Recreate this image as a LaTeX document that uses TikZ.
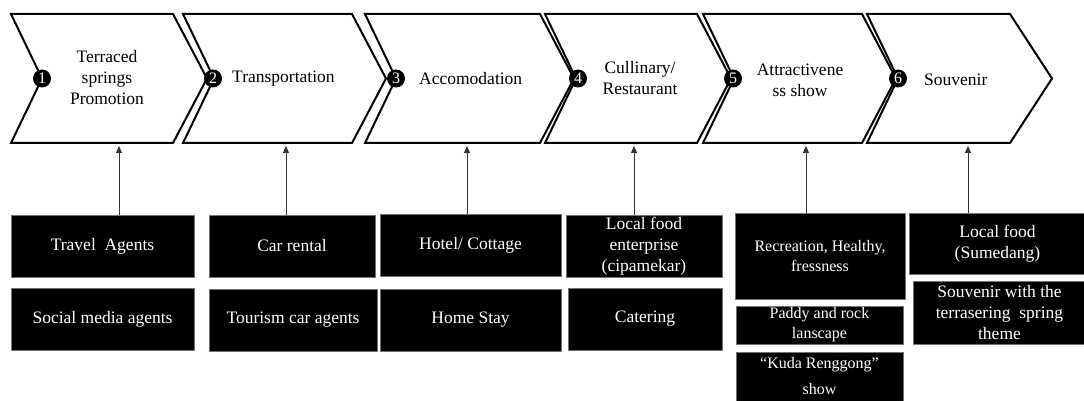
\documentclass[tikz,border=0pt]{standalone}
\usepackage{fontspec}
\setmainfont{Liberation Serif}
\usetikzlibrary{arrows.meta}
\tikzset{
  chev/.style={draw=black, line width=2pt, line join=miter, fill=white},
  ctext/.style={font=\fontsize{17.5}{21}\selectfont, align=center, inner sep=0pt},
  numdot/.style={circle, fill=black, text=white, minimum size=18pt, inner sep=0pt, font=\fontsize{16}{16}\selectfont},
  bbox/.style={rectangle, fill=black, draw=black!55, line width=0.8pt, text=white, align=center, inner sep=0pt, font=\fontsize{17.5}{21}\selectfont},
  sbox/.style={bbox, font=\fontsize{16}{20}\selectfont},
  stext/.style={text=white, align=center, inner sep=0pt, font=\fontsize{16}{26}\selectfont},
  uparrow/.style={draw=black!80, line width=0.9pt, -{Triangle[length=7pt,width=6pt]}},
}
\newcommand\mychevron[4]{%
  \draw[chev] (#1,14) -- (#2,14) -- (#2+#4,78.5) -- (#2,143) -- (#1,143) -- (#1+#3,78.5) -- cycle;}
\begin{document}
\begin{tikzpicture}[x=1pt,y=-1pt]
\useasboundingbox (0,0) rectangle (1084,401);
% chevrons
\mychevron{11}{173}{31}{34}
\mychevron{183}{352}{31}{34}
\mychevron{365}{540}{31}{34}
\mychevron{545}{697}{31}{34}
\mychevron{703}{862}{31}{34}
\mychevron{867}{1010}{31}{42}
% number dots
\node[numdot] (n1) at (42,78.5) {1};
\node[numdot] (n2) at (213,78.5) {2};
\node[numdot] (n3) at (396,78.5) {3};
\node[numdot] (n4) at (578,78.5) {4};
\node[numdot] (n5) at (733,78.5) {5};
\node[numdot] (n6) at (898,78.5) {6};
% chevron labels
\node[ctext] (t1) at (107,78) {Terraced\\springs\\Promotion};
\node[ctext, anchor=west] (t2) at (232,79) {Transportation};
\node[ctext, anchor=west] (t3) at (419,79) {Accomodation};
\node[ctext] (t4) at (640,78) {Cullinary/\\Restaurant};
\node[ctext] (t5) at (800,80) {Attractivene\\ss show};
\node[ctext, anchor=west] (t6) at (924,80) {Souvenir};
% arrow targets
\coordinate (c1) at (119,146);
\coordinate (c2) at (286,146);
\coordinate (c3) at (467,146);
\coordinate (c4) at (634,146);
\coordinate (c5) at (806,146);
\coordinate (c6) at (968,146);
% boxes
\node[bbox, minimum width=183pt, minimum height=62pt] (b1a) at (102.5,246) {Travel\ \ Agents};
\node[bbox, minimum width=183pt, minimum height=62pt] (b1b) at (102.5,319) {Social media agents};
\node[bbox, minimum width=166pt, minimum height=62pt] (b2a) at (292,246) {Car rental};
\node[bbox, minimum width=168pt, minimum height=62pt] (b2b) at (293,320) {Tourism car agents};
\node[bbox, minimum width=181pt, minimum height=62pt] (b3a) at (470.5,245) {Hotel/ Cottage};
\node[bbox, minimum width=181pt, minimum height=62pt] (b3b) at (470.5,320) {Home Stay};
\node[bbox, minimum width=156pt, minimum height=62pt] (b4a) at (644,246) {Local food\\enterprise\\(cipamekar)};
\node[bbox, minimum width=154pt, minimum height=62pt] (b4b) at (645,319) {Catering};
\node[sbox, minimum width=170pt, minimum height=86pt] (b5a) at (820,256) {Recreation, Healthy,\\fressness};
\node[sbox, minimum width=167pt, minimum height=38pt] (b5b) at (819.5,325) {Paddy and rock\\lanscape};
\node[sbox, minimum width=167pt, minimum height=64pt] (b5c) at (819.5,384) {};
\node[stext] (t5c) at (819.5,376) {``Kuda Renggong''\\show};
\node[bbox, minimum width=177pt, minimum height=61pt] (b6a) at (997.5,243.5) {Local food\\(Sumedang)};
\node[bbox, minimum width=173pt, minimum height=63pt] (b6b) at (999.5,312.5) {Souvenir with the\\terrasering\ \ spring\\theme};
% arrows
\draw[uparrow] (c1 |- b1a.north) -- (c1);
\draw[uparrow] (c2 |- b2a.north) -- (c2);
\draw[uparrow] (c3 |- b3a.north) -- (c3);
\draw[uparrow] (c4 |- b4a.north) -- (c4);
\draw[uparrow] (c5 |- b5a.north) -- (c5);
\draw[uparrow] (c6 |- b6a.north) -- (c6);
\end{tikzpicture}
\end{document}
